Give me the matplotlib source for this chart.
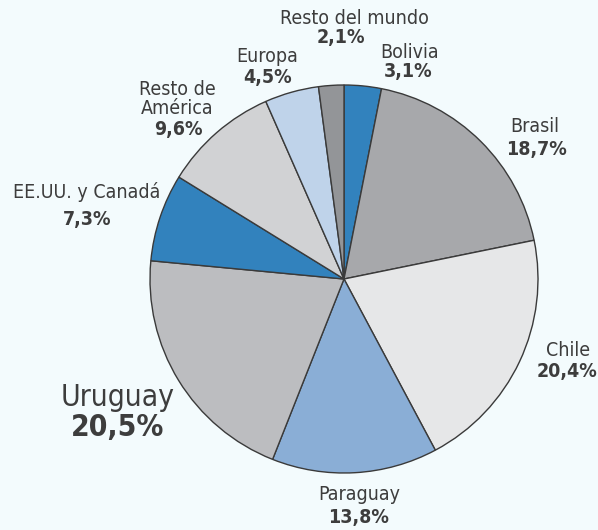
import matplotlib
matplotlib.use("Agg")
import matplotlib.pyplot as plt

# share of total by destination, clockwise from 12 o'clock
regions = ["Bolivia", "Brasil", "Chile", "Paraguay", "Uruguay",
           "EE.UU. y Canadá", "Resto de\nAmérica", "Europa", "Resto del mundo"]
shares = [3.1, 18.7, 20.4, 13.8, 20.5, 7.3, 9.6, 4.5, 2.1]
share_labels = ["3,1%", "18,7%", "20,4%", "13,8%", "20,5%", "7,3%", "9,6%", "4,5%", "2,1%"]

colors = ["#3282bd", "#a7a8ab", "#e6e7e8", "#8aaed6", "#bcbdc0",
          "#3282bd", "#d1d2d4", "#bfd3ea", "#939598"]

W, H = 598, 530
BG = "#f3fbfd"
TXT = "#3d3d3d"

plt.rcParams['font.family'] = ['DejaVu Sans']
plt.rcParams['font.stretch'] = 'condensed'

fig = plt.figure(figsize=(W / 100, H / 100), dpi=100, facecolor=BG)
ax = fig.add_axes([0, 0, 1, 1])
ax.set_facecolor(BG)

ax.pie(shares, colors=colors, startangle=90, counterclock=False,
       center=(344, H - 279), radius=194, frame=True,
       wedgeprops=dict(edgecolor="#3a3a3a", linewidth=1.0))
ax.set_xlim(0, W)
ax.set_ylim(0, H)
ax.set_aspect("equal")
ax.axis("off")

# label anchors (pixel positions from top-left): name centre, value centre
name_pos = [(410, 53), (535, 127), (568, 350), (359, 495), (118, 398),
            (87, 192), (177, 99), (267, 57), (354, 18)]
value_pos = [(408, 72), (536, 150), (567, 372), (359, 517), (118, 427),
             (87, 219), (178, 130), (267, 77), (341, 38)]

for i, name in enumerate(regions):
    big = name == "Uruguay"
    fs = 21.5 if big else 14
    nx, ny = name_pos[i]
    vx, vy = value_pos[i]
    ax.text(nx, H - ny, name, ha="center", va="center", fontsize=fs,
            color=TXT, linespacing=0.95)
    ax.text(vx, H - vy, share_labels[i], ha="center", va="center", fontsize=fs,
            color=TXT, fontweight="bold")

fig.savefig("out.png", dpi=100, facecolor=BG)
